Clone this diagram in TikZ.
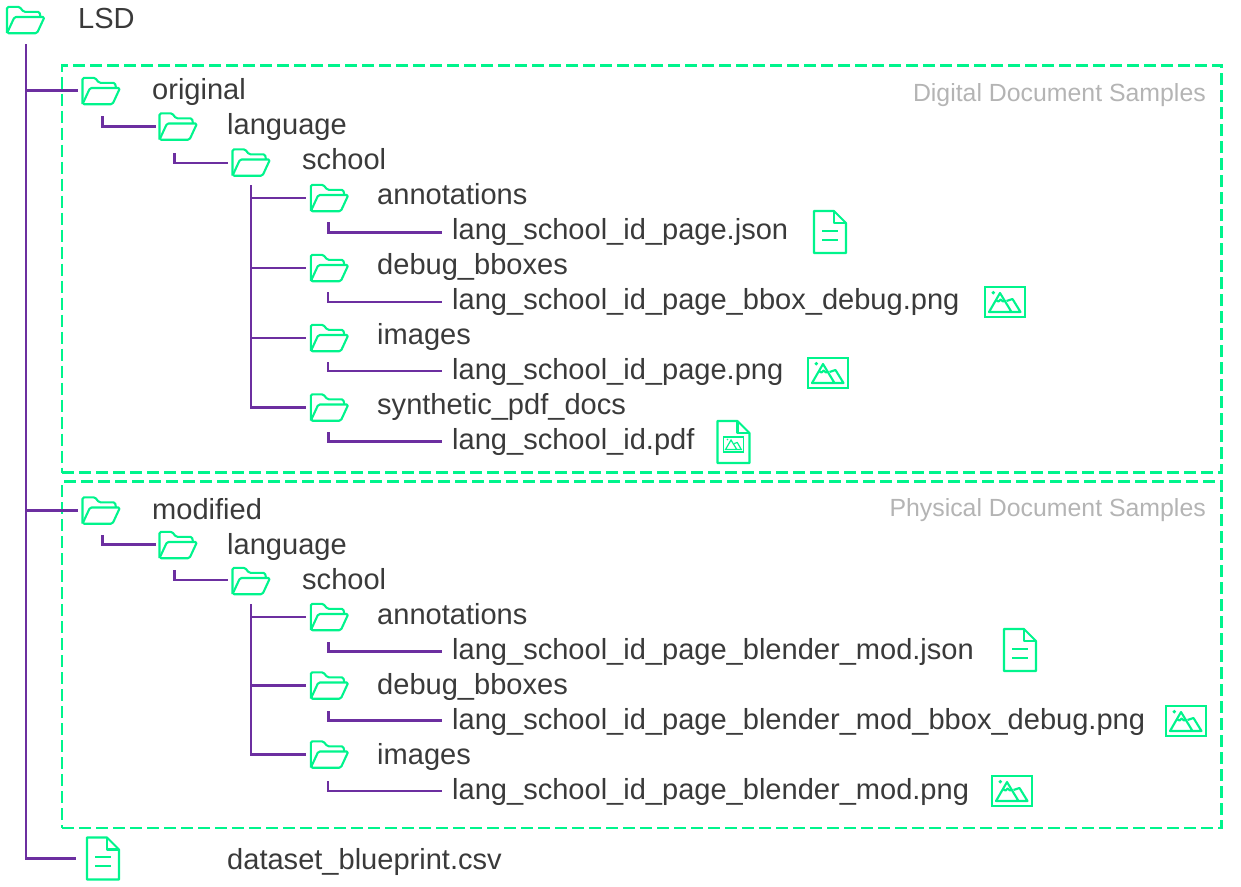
\documentclass[tikz,border=0pt]{standalone}
\usepackage{fontspec}
\setmainfont{Liberation Sans}
\definecolor{grn}{HTML}{00F48C}
\definecolor{pur}{HTML}{6C2FA0}
\definecolor{txt}{HTML}{3A3A3A}
\definecolor{gry}{HTML}{B4B4B4}
\tikzset{
  x=1pt,y=-1pt,
  iconline/.style={draw=grn,line width=2.1pt,line join=round},
  conn/.style={draw=pur,line width=2.2pt},
  connb/.style={draw=pur,line width=3pt},
  region/.style={draw=grn,line width=2.3pt,dash pattern=on 12pt off 5pt},
  entry/.style={anchor=base west,inner sep=0pt,text=txt,font=\fontsize{29.05}{32}\selectfont},
  caption/.style={anchor=base east,inner sep=0pt,text=gry,font=\fontsize{24.85}{28}\selectfont},
  foldernode/.style={minimum width=38pt,minimum height=27pt,inner sep=0pt,outer sep=4pt},
  docnode/.style={minimum width=32pt,minimum height=42pt,inner sep=0pt,outer sep=0pt},
  imgnode/.style={minimum width=40pt,minimum height=30pt,inner sep=0pt,outer sep=0pt},
  pics/foldericon/.style={code={
    \draw[iconline,rounded corners=1.5pt] (-18.5,13.2) -- (-18.5,-13.2) -- (-6,-13.2) -- (-2,-8.2) -- (14,-8.2) -- (15,-3);
    \draw[iconline,rounded corners=1.5pt] (-18.5,13.2) -- (-11,-3) -- (19,-3) -- (11.5,13.2) -- cycle;
  }},
  pics/docicon/.style={code={
    \draw[iconline] (-16,-21) -- (4,-21) -- (16,-9) -- (16,21) -- (-16,21) -- cycle;
    \draw[iconline] (4,-21) -- (4,-9) -- (16,-9);
  }},
  pics/doclines/.style={code={
    \draw[iconline] (-8,-1.3) -- (8,-1.3) (-8,7.7) -- (8,7.7);
  }},
  pics/mountains/.style={code={
    \draw[iconline] (-16,10) -- (-5,-9) -- (6.5,10) -- cycle;
    \draw[iconline] (1.5,-1) -- (7.5,-3) -- (15.5,10) -- (6.5,10);
    \draw[iconline] (-9.5,-2) -- (-6.5,-0.5) -- (-4.5,-2.5) -- (-2,-0.5) -- (0,-2);
    \fill[grn] (-11.7,-9.3) circle (1.9);
  }},
  pics/imgicon/.style={code={
    \draw[draw=grn,line width=2.6pt] (-20,-15) rectangle (20,15);
    \pic {mountains};
  }},
}
\newcommand{\folderat}[3]{\node[foldernode] (#1) at (#2,#3) {}; \pic at (#1.center) {foldericon};}
\newcommand{\docat}[3]{\node[docnode] (#1) at (#2,#3) {}; \pic at (#1.center) {docicon}; \pic at (#1.center) {doclines};}
\newcommand{\imgat}[3]{\node[imgnode] (#1) at (#2,#3) {}; \pic at (#1.center) {imgicon};}
\begin{document}
\begin{tikzpicture}
\useasboundingbox (0,0) rectangle (1241,886);
% regions
\node[region,anchor=north west,minimum width=1159.5pt,minimum height=407pt,inner sep=0pt,outer sep=0pt] (digital) at (62,65.5) {};
\node[region,anchor=north west,minimum width=1159.5pt,minimum height=346.5pt,inner sep=0pt,outer sep=0pt] (physical) at (62,481.5) {};
\node[caption] (capd) at (1206,101) {Digital Document Samples};
\node[caption] (capp) at (1206,516) {Physical Document Samples};
% folders
\folderat{root}{25.5}{20}
\folderat{orig}{101}{91}
\folderat{olang}{178}{126.5}
\folderat{oschool}{251}{162.5}
\folderat{oann}{329.3}{198}
\folderat{odbg}{329.3}{268}
\folderat{oimg}{329.3}{338}
\folderat{osyn}{329.3}{407.5}
\folderat{mod}{101}{510.5}
\folderat{mlang}{178}{545}
\folderat{mschool}{251}{581}
\folderat{mann}{329.3}{617}
\folderat{mdbg}{329.3}{685.5}
\folderat{mimg}{329.3}{754.5}
% files
\docat{ojson}{830}{232}
\imgat{obbox}{1005}{302}
\imgat{opng}{828}{373}
\node[docnode] (opdf) at (733.5,442) {}; \pic at (opdf.center) {docicon};
\begin{scope}[shift={(opdf.center)}]
  \draw[draw=grn,line width=1.4pt] (-10,-5) rectangle (10,10);
  \draw[draw=grn,line width=1.2pt] (-8,7.5) -- (-2.5,-2) -- (3.3,7.5) -- cycle (0.8,1.5) -- (3.8,0.5) -- (7.8,7.5) -- (3.3,7.5);
  \fill[grn] (-6,-2.5) circle (0.9);
\end{scope}
\docat{mjson}{1020}{650}
\imgat{mbbox}{1186}{721}
\imgat{mpng}{1012}{791}
\docat{blue}{103}{858.5}
% texts
\node[entry] (troot) at (78,28) {LSD};
\node[entry] (torig) at (152,99) {original};
\node[entry] (tolang) at (227,134) {language};
\node[entry] (toschool) at (302,169) {school};
\node[entry] (toann) at (377,204) {annotations};
\node[entry] (tojson) at (452,239) {lang\_school\_id\_page.json};
\node[entry] (todbg) at (377,274) {debug\_bboxes};
\node[entry] (tobbox) at (452,309) {lang\_school\_id\_page\_bbox\_debug.png};
\node[entry] (toimg) at (377,344) {images};
\node[entry] (topng) at (452,379) {lang\_school\_id\_page.png};
\node[entry] (tosyn) at (377,414) {synthetic\_pdf\_docs};
\node[entry] (topdf) at (452,449) {lang\_school\_id.pdf};
\node[entry] (tmod) at (152,519) {modified};
\node[entry] (tmlang) at (227,554) {language};
\node[entry] (tmschool) at (302,589) {school};
\node[entry] (tmann) at (377,624) {annotations};
\node[entry] (tmjson) at (452,659) {lang\_school\_id\_page\_blender\_mod.json};
\node[entry] (tmdbg) at (377,694) {debug\_bboxes};
\node[entry] (tmbbox) at (452,729) {lang\_school\_id\_page\_blender\_mod\_bbox\_debug.png};
\node[entry] (tmimg) at (377,764) {images};
\node[entry] (tmpng) at (452,799) {lang\_school\_id\_page\_blender\_mod.png};
\node[entry] (tblue) at (227,869) {dataset\_blueprint.csv};
% connector anchors
\coordinate (tr0) at (26,44);
\coordinate (e1) at (102,116);
\coordinate (e2) at (174.5,153);
\coordinate (tr1) at (251,185);
\coordinate (e3) at (328,222);
\coordinate (e4) at (328,292);
\coordinate (e5) at (328,362);
\coordinate (e6) at (328,432);
\coordinate (e7) at (102,535);
\coordinate (e8) at (174.5,570);
\coordinate (tr2) at (251,604);
\coordinate (e9) at (328,642);
\coordinate (e10) at (328,711);
\coordinate (e11) at (328,781);
\coordinate (jn0) at (26,90.5);
\coordinate (jn1) at (26,510);
\coordinate (olangend) at (156,126);
\coordinate (oschoolend) at (228,163);
\coordinate (mlangend) at (156,544);
\coordinate (mschoolend) at (228,580);
\coordinate (ojsonend) at (442,232);
\coordinate (obboxend) at (442,302);
\coordinate (opngend) at (442,371);
\coordinate (opdfend) at (442,441.5);
\coordinate (mjsonend) at (442,651);
\coordinate (mbboxend) at (442,720);
\coordinate (mpngend) at (442,791);
\coordinate (blueend) at (76,858.5);
% connectors
\draw[conn] (tr0) |- (blueend);
\draw[connb] (26,858.5) -- (blueend);
\draw[conn] (jn0) -- (orig.west |- jn0);
\draw[connb] (jn1) -- (mod.west |- jn1);
\draw[connb] (e1) |- (olangend);
\draw[conn] (e2) |- (oschoolend);
\draw[conn] (tr1) |- (osyn.west);
\draw[conn] (tr1 |- oann.west) -- (oann.west);
\draw[conn] (tr1 |- odbg.west) -- (odbg.west);
\draw[conn] (tr1 |- oimg.west) -- (oimg.west);
\draw[connb] (e3) |- (ojsonend);
\draw[conn] (e4) |- (obboxend);
\draw[conn] (e5) |- (opngend);
\draw[connb] (e6) |- (opdfend);
\draw[connb] (e7) |- (mlangend);
\draw[conn] (e8) |- (mschoolend);
\draw[conn] (tr2) |- (mimg.west);
\draw[conn] (tr2 |- mann.west) -- (mann.west);
\draw[connb] (tr2 |- mdbg.west) -- (mdbg.west);
\draw[connb] (tr2 |- mimg.west) -- (mimg.west);
\draw[connb] (e9) |- (mjsonend);
\draw[connb] (e10) |- (mbboxend);
\draw[conn] (e11) |- (mpngend);
\end{tikzpicture}
\end{document}
